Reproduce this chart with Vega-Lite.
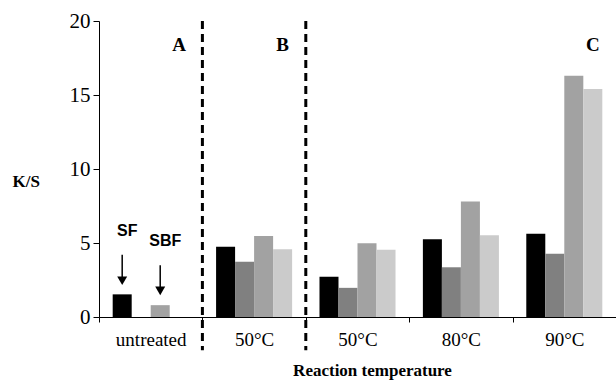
{
  "$schema": "https://vega.github.io/schema/vega-lite/v6.json",
  "width": 517,
  "height": 296,
  "autosize": {"type": "none"},
  "padding": {"left": 99, "top": 21, "right": 0, "bottom": 65},
  "background": "white",
  "config": {"view": {"stroke": null}},
  "datasets": {
    "bars": [
      {"group": "g1", "series": "s1", "ks": 1.53},
      {"group": "g1", "series": "s3", "ks": 0.8},
      {"group": "g2", "series": "s1", "ks": 4.75},
      {"group": "g2", "series": "s2", "ks": 3.74},
      {"group": "g2", "series": "s3", "ks": 5.47},
      {"group": "g2", "series": "s4", "ks": 4.57},
      {"group": "g3", "series": "s1", "ks": 2.72},
      {"group": "g3", "series": "s2", "ks": 1.97},
      {"group": "g3", "series": "s3", "ks": 4.99},
      {"group": "g3", "series": "s4", "ks": 4.54},
      {"group": "g4", "series": "s1", "ks": 5.26},
      {"group": "g4", "series": "s2", "ks": 3.36},
      {"group": "g4", "series": "s3", "ks": 7.8},
      {"group": "g4", "series": "s4", "ks": 5.53},
      {"group": "g5", "series": "s1", "ks": 5.62},
      {"group": "g5", "series": "s2", "ks": 4.27},
      {"group": "g5", "series": "s3", "ks": 16.3},
      {"group": "g5", "series": "s4", "ks": 15.4}
    ],
    "dividers": [
      {"group": "g2", "top": 20, "bottom": -2.25},
      {"group": "g3", "top": 20, "bottom": -2.25}
    ],
    "panels": [
      {"group": "g1", "series": "s4", "label": "A", "ks": 18.4},
      {"group": "g2", "series": "s4", "label": "B", "ks": 18.4},
      {"group": "g5", "series": "s4", "label": "C", "ks": 18.4}
    ],
    "markers": [
      {"group": "g1", "series": "s1", "label": "SF", "text_y": 5.8, "shaft_top": 4.2, "shaft_bottom": 2.6, "head": 2.45},
      {"group": "g1", "series": "s3", "label": "SBF", "text_y": 5.15, "shaft_top": 3.5, "shaft_bottom": 1.9, "head": 1.77}
    ]
  },
  "layer": [
    {
      "data": {"name": "bars"},
      "mark": {"type": "bar"},
      "encoding": {
        "x": {
          "field": "group",
          "type": "nominal",
          "scale": {"domain": ["g1", "g2", "g3", "g4", "g5"], "paddingInner": 0, "paddingOuter": 0},
          "axis": {
            "title": "Reaction temperature",
            "titleFont": "Liberation Serif",
            "titleFontSize": 17,
            "titleFontWeight": "bold",
            "titleColor": "black",
            "titlePadding": 13,
            "titleX": 273,
            "labelExpr": "{'g1':'untreated','g2':'50°C','g3':'50°C','g4':'80°C','g5':'90°C'}[datum.value]",
            "labelFont": "Liberation Serif",
            "labelFontSize": 19,
            "labelColor": "black",
            "labelAngle": 0,
            "labelPadding": 8,
            "bandPosition": 0,
            "tickSize": 5,
            "tickOffset": 0,
            "tickColor": "black",
            "domainColor": "black",
            "domainWidth": 1
          }
        },
        "xOffset": {
          "field": "series",
          "type": "nominal",
          "scale": {"domain": ["s1", "s2", "s3", "s4"], "paddingInner": 0, "paddingOuter": 0.72}
        },
        "y": {
          "field": "ks",
          "type": "quantitative",
          "scale": {"domain": [0, 20], "nice": false},
          "axis": {
            "title": "K/S",
            "titleAngle": 0,
            "titleFont": "Liberation Serif",
            "titleFontSize": 17,
            "titleFontWeight": "bold",
            "titleColor": "black",
            "titleX": -87,
            "titleY": 169,
            "titleAlign": "left",
            "values": [0, 5, 10, 15, 20],
            "labelFont": "Liberation Serif",
            "labelFontSize": 21,
            "labelColor": "black",
            "labelPadding": 3,
            "tickSize": 6,
            "tickColor": "black",
            "domainColor": "black",
            "grid": false
          }
        },
        "color": {
          "field": "series",
          "type": "nominal",
          "scale": {"domain": ["s1", "s2", "s3", "s4"], "range": ["#000000", "#808080", "#a2a2a2", "#cbcbcb"]},
          "legend": null
        }
      }
    },
    {
      "data": {"name": "dividers"},
      "mark": {"type": "rule", "color": "black", "strokeWidth": 3, "strokeDash": [8, 5]},
      "encoding": {
        "x": {"field": "group", "type": "nominal", "bandPosition": 0},
        "y": {"field": "top", "type": "quantitative"},
        "y2": {"field": "bottom"}
      }
    },
    {
      "data": {"name": "panels"},
      "mark": {"type": "text", "font": "Liberation Serif", "fontSize": 19, "fontWeight": "bold", "color": "black", "baseline": "middle"},
      "encoding": {
        "x": {"field": "group", "type": "nominal"},
        "xOffset": {"field": "series", "type": "nominal"},
        "y": {"field": "ks", "type": "quantitative"},
        "text": {"field": "label"}
      }
    },
    {
      "data": {"name": "markers"},
      "mark": {"type": "text", "font": "Liberation Sans", "fontSize": 16, "fontWeight": "bold", "color": "black", "baseline": "middle", "dx": 5},
      "encoding": {
        "x": {"field": "group", "type": "nominal"},
        "xOffset": {"field": "series", "type": "nominal"},
        "y": {"field": "text_y", "type": "quantitative"},
        "text": {"field": "label"}
      }
    },
    {
      "data": {"name": "markers"},
      "mark": {"type": "rule", "color": "black", "strokeWidth": 1.5, "xOffset": 3},
      "encoding": {
        "x": {"field": "group", "type": "nominal"},
        "xOffset": {"field": "series", "type": "nominal"},
        "y": {"field": "shaft_top", "type": "quantitative"},
        "y2": {"field": "shaft_bottom"}
      }
    },
    {
      "data": {"name": "markers"},
      "mark": {"type": "point", "shape": "triangle-down", "filled": true, "color": "black", "size": 100, "opacity": 1, "xOffset": 3},
      "encoding": {
        "x": {"field": "group", "type": "nominal"},
        "xOffset": {"field": "series", "type": "nominal"},
        "y": {"field": "head", "type": "quantitative"}
      }
    }
  ]
}
